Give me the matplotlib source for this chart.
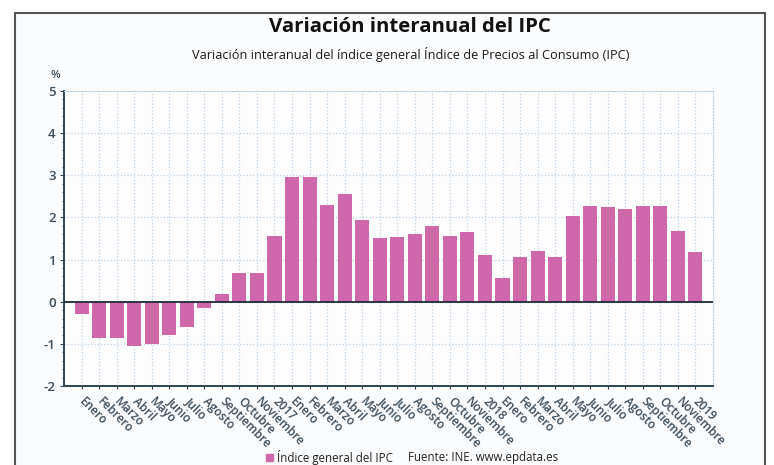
import matplotlib.pyplot as plt
from matplotlib.patches import Rectangle
from matplotlib.ticker import MultipleLocator

# Datos (variacion interanual del IPC, %)
meses = ['Enero', 'Febrero', 'Marzo', 'Abril', 'Mayo', 'Junio', 'Julio',
         'Agosto', 'Septiembre', 'Octubre', 'Noviembre']
etiquetas = meses + ['2017'] + meses + ['2018'] + meses + ['2019']
valores = [-0.3, -0.85, -0.85, -1.05, -1.0, -0.8, -0.6, -0.15, 0.18, 0.67, 0.67, 1.57,
           2.97, 2.97, 2.29, 2.55, 1.93, 1.5, 1.54, 1.61, 1.79, 1.57, 1.66, 1.11,
           0.57, 1.07, 1.2, 1.07, 2.04, 2.28, 2.25, 2.19, 2.27, 2.27, 1.68, 1.18]
y_ticks = [-2, -1, 0, 1, 2, 3, 4, 5]

rosa = '#cf68aa'
texto = '#3b4c5a'
eje = '#2c4556'
W, H = 774, 465

plt.rcParams['font.family'] = ['Open Sans', 'DejaVu Sans']
fig = plt.figure(figsize=(W / 100, H / 100), dpi=100)
fig.patch.set_facecolor('white')

# marco gris del grafico
marco = Rectangle((15 / W, -0.1), 750 / W, 1.1 - 13 / H,
                  transform=fig.transFigure, facecolor='#fbfcfe',
                  edgecolor='#555555', lw=1.5, zorder=-5)
fig.patches.append(marco)

ax = fig.add_axes([64 / W, 1 - 386 / H, (713 - 64) / W, (386 - 91) / H])
ax.set_zorder(2)
ax.set_facecolor('#fdfdfe')

x = list(range(len(valores)))
ax.bar(x, valores, width=0.8, color=rosa, zorder=3)
ax.axhline(0, color='#1e2a35', lw=1.3, zorder=4)

ax.set_xlim(-1, len(valores))
ax.set_ylim(-2, 5)
ax.set_yticks(y_ticks)
ax.set_yticklabels([str(v) for v in y_ticks], fontsize=9.5, color=texto, fontweight='semibold')
ax.yaxis.set_minor_locator(MultipleLocator(0.2))
ax.set_xticks(x)
ax.set_xticklabels(etiquetas, rotation=-45, ha='left', va='center',
                   rotation_mode='anchor', fontsize=8.5, color=texto,
                   fontweight='semibold')
ax.tick_params(axis='x', length=2, color=eje, pad=8)
ax.tick_params(axis='y', length=3, color=eje, pad=3)
ax.tick_params(axis='y', which='minor', length=1.5, color=eje)

ax.grid(True, color='#bcd2e6', linestyle=':', lw=0.9, zorder=0)
ax.set_axisbelow(True)
for s in ['top', 'right']:
    ax.spines[s].set_color('#bcd2e6')
    ax.spines[s].set_linestyle(':')
for s in ['left', 'bottom']:
    ax.spines[s].set_color(eje)
    ax.spines[s].set_linewidth(1.4)

fig.text(410 / W, 1 - 27 / H, 'Variación interanual del IPC', ha='center', va='center',
         fontsize=14.7, fontweight='bold', color='#111111')
fig.text(411 / W, 1 - 55 / H,
         'Variación interanual del índice general Índice de Precios al Consumo (IPC)',
         ha='center', va='center', fontsize=9.2, color='#1a1a1a')
fig.text(55 / W, 1 - 76 / H, '%', ha='center', va='center', fontsize=8,
         color=texto, fontweight='semibold')

# leyenda y fuente
fig.patches.append(Rectangle((266 / W, 1 - 461 / H), 7 / W, 7 / H,
                             transform=fig.transFigure, color=rosa))
fig.text(277 / W, 1 - 457 / H, 'Índice general del IPC', ha='left', va='center',
         fontsize=8.3, color='#222222')
fig.text(408 / W, 1 - 457 / H, 'Fuente: INE. www.epdata.es', ha='left', va='center',
         fontsize=8.3, color='#222222')

fig.savefig('out.png', dpi=100)
